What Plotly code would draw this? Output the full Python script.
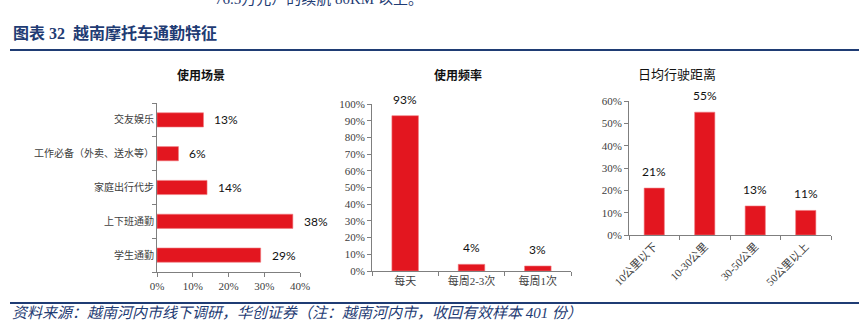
import plotly.graph_objects as go

W, H = 859, 322

# 使用场景 (horizontal bars, listed bottom to top)
scene_labels = ["学生通勤", "上下班通勤", "家庭出行代步", "工作必备（外卖、送水等）", "交友娱乐"]
scene_values = [29, 38, 14, 6, 13]

# 使用频率
freq_labels = ["每天", "每周2-3次", "每周1次"]
freq_values = [93, 4, 3]

# 日均行驶距离
dist_labels = ["10公里以下", "10-30公里", "30-50公里", "50公里以上"]
dist_values = [21, 55, 13, 11]

RED = "#E3161F"
NAVY = "#1F3C74"
AXIS = "#7F7F7F"
SERIF = "Liberation Serif, Noto Sans CJK SC"
SANS = "Liberation Sans, Noto Sans CJK SC"
TICK_FONT = dict(family=SERIF, size=11, color="#404040")
CAT_FONT = dict(family=SERIF, size=10, color="#404040")
LABEL_FONT = dict(family="Lato, Noto Sans, sans-serif", size=12, color="#111111")


def px_x(p):
    return p / W


def px_y(p):
    return 1 - p / H


fig = go.Figure()

bar_marker = dict(color=RED, line=dict(color="#F07A80", width=0.6))
fig.add_trace(go.Bar(
    y=scene_labels, x=scene_values, orientation="h", marker=bar_marker,
    width=0.42, xaxis="x", yaxis="y", hoverinfo="skip",
))
fig.add_trace(go.Bar(
    x=freq_labels, y=freq_values, marker=bar_marker,
    width=0.4, xaxis="x2", yaxis="y2", hoverinfo="skip",
))
fig.add_trace(go.Bar(
    x=dist_labels, y=dist_values, marker=bar_marker,
    width=0.4, xaxis="x3", yaxis="y3", hoverinfo="skip",
))

annotations = []
for lab, v in zip(scene_labels, scene_values):
    annotations.append(dict(x=v, y=lab, xref="x", yref="y", text=f"{v}%",
                            showarrow=False, xanchor="left", xshift=9,
                            font=LABEL_FONT))
for lab, v in zip(freq_labels, freq_values):
    annotations.append(dict(x=lab, y=v, xref="x2", yref="y2", text=f"{v}%",
                            showarrow=False, yanchor="bottom", yshift=7,
                            font=LABEL_FONT))
for lab, v in zip(dist_labels, dist_values):
    annotations.append(dict(x=lab, y=v, xref="x3", yref="y3", text=f"{v}%",
                            showarrow=False, yanchor="bottom", yshift=7,
                            font=LABEL_FONT))

# panel titles
title_font = dict(family=SANS, size=12, color="#111111")
annotations += [
    dict(x=px_x(175), y=px_y(75), xref="paper", yref="paper", text="<b>使用场景</b>",
         showarrow=False, yanchor="middle", font=title_font),
    dict(x=px_x(458), y=px_y(75), xref="paper", yref="paper", text="<b>使用频率</b>",
         showarrow=False, yanchor="middle", font=title_font),
    dict(x=px_x(718), y=px_y(74), xref="paper", yref="paper", text="日均行驶距离",
         showarrow=False, yanchor="middle",
         font=dict(family=SANS, size=13, color="#111111")),
]

# page header, figure caption and source note
annotations += [
    dict(x=px_x(213), y=px_y(9), xref="paper", yref="paper",
         text="76.5万元）的续航 80KM 以上。", showarrow=False,
         xanchor="left", yanchor="bottom",
         font=dict(family=SERIF, size=15, color=NAVY)),
    dict(x=px_x(11), y=px_y(33), xref="paper", yref="paper",
         text="<b>图表 32  越南摩托车通勤特征</b>", showarrow=False,
         xanchor="left", yanchor="middle",
         font=dict(family=SERIF, size=16, color=NAVY)),
    dict(x=px_x(10), y=px_y(313), xref="paper", yref="paper",
         text="<i>资料来源：越南河内市线下调研，华创证券（注：越南河内市，收回有效样本 401 份）</i>",
         showarrow=False, xanchor="left", yanchor="middle",
         font=dict(family=SERIF, size=15, color=NAVY)),
]

shapes = [
    dict(type="line", xref="paper", yref="paper", x0=px_x(10), x1=1,
         y0=px_y(50), y1=px_y(50), line=dict(color=NAVY, width=2)),
    dict(type="line", xref="paper", yref="paper", x0=px_x(10), x1=1,
         y0=px_y(303), y1=px_y(303), line=dict(color=NAVY, width=2)),
]

common = dict(showgrid=False, zeroline=False, showline=True, linecolor=AXIS,
              linewidth=1, ticks="outside", tickcolor=AXIS, ticklen=4,
              automargin=False, fixedrange=True)

fig.update_layout(
    width=W, height=H,
    margin=dict(l=0, r=0, t=0, b=0, pad=0, autoexpand=False),
    paper_bgcolor="white", plot_bgcolor="white",
    showlegend=False,
    xaxis=dict(domain=[px_x(157), px_x(300)], range=[0, 40], dtick=10,
               ticksuffix="%", anchor="y", tickfont=TICK_FONT, **common),
    yaxis=dict(domain=[px_y(272), px_y(103)], type="category",
               categoryorder="array", categoryarray=scene_labels,
               tickson="boundaries", anchor="x", tickfont=CAT_FONT, **common),
    xaxis2=dict(domain=[px_x(372), px_x(571)], type="category",
                tickson="boundaries", anchor="y2", tickfont=TICK_FONT, **common),
    yaxis2=dict(domain=[px_y(271), px_y(104)], range=[0, 100], dtick=10,
                ticksuffix="%", anchor="x2", tickfont=TICK_FONT, **common),
    xaxis3=dict(domain=[px_x(629), px_x(831)], type="category",
                tickson="boundaries", tickangle=-45, anchor="y3",
                tickfont=TICK_FONT, **common),
    yaxis3=dict(domain=[px_y(235), px_y(101)], range=[0, 60], dtick=10,
                ticksuffix="%", anchor="x3", tickfont=TICK_FONT, **common),
    annotations=annotations,
    shapes=shapes,
)

fig.write_html(
    "out.html",
    post_script="document.body.style.margin='0';document.body.style.overflow='hidden';",
)
